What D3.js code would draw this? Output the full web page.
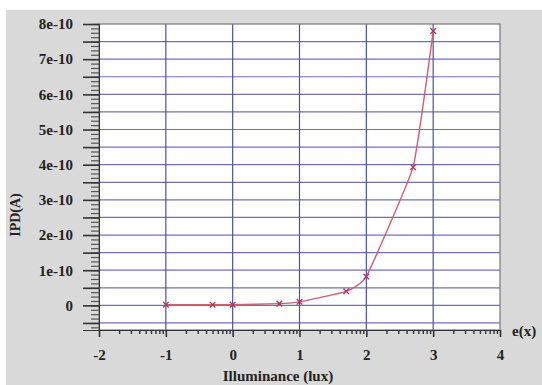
<!DOCTYPE html>
<html>
<head>
<meta charset="utf-8">
<script src="https://cdn.jsdelivr.net/npm/d3@7"></script>
<style>
  html, body { margin: 0; padding: 0; background: #ffffff; }
  svg { display: block; }
  text { font-family: "Liberation Serif", "Times New Roman", serif; font-weight: bold; fill: #222; }
</style>
</head>
<body>
<svg id="chart" width="542" height="385"></svg>
<script>
// Illuminance levels (lux) and measured photodiode current IPD (A)
const illuminance = [0.1, 0.5, 1, 5, 10, 50, 100, 500, 1000];
const ipd = [0.02e-10, 0.02e-10, 0.02e-10, 0.05e-10, 0.1e-10, 0.4e-10, 0.82e-10, 3.93e-10, 7.8e-10];

// Axis ticks
const xTickExponents = [-2, -1, 0, 1, 2, 3, 4];
const yTickValues = [0, 1e-10, 2e-10, 3e-10, 4e-10, 5e-10, 6e-10, 7e-10, 8e-10];
const yTickLabels = ["0", "1e-10", "2e-10", "3e-10", "4e-10", "5e-10", "6e-10", "7e-10", "8e-10"];

const svg = d3.select("#chart");
const plot = { left: 99, top: 24, right: 500, bottom: 330 };

// Gray panel behind the chart
svg.append("rect")
  .attr("x", 6).attr("y", 10)
  .attr("width", 536).attr("height", 375)
  .attr("fill", "#d9d9d9");

const x = d3.scaleLog()
  .domain([1e-2, 1e4])
  .range([plot.left, plot.right]);

const y = d3.scaleLinear()
  .domain([-0.7e-10, 8e-10])
  .range([plot.bottom, plot.top]);

// Plot area
svg.append("rect")
  .attr("x", plot.left).attr("y", plot.top)
  .attr("width", plot.right - plot.left).attr("height", plot.bottom - plot.top)
  .attr("fill", "#ffffff");

// Horizontal grid every 0.5e-10
const hGrid = d3.range(-1, 16).map(i => i * 0.5e-10);
svg.append("g").selectAll("line")
  .data(hGrid)
  .join("line")
  .attr("x1", plot.left).attr("x2", plot.right)
  .attr("y1", d => y(d)).attr("y2", d => y(d))
  .attr("stroke", "#7070b8").attr("stroke-width", 1.2);

// Vertical grid at each decade
const vGrid = [-1, 0, 1, 2, 3].map(e => Math.pow(10, e));
svg.append("g").selectAll("line")
  .data(vGrid)
  .join("line")
  .attr("x1", d => x(d)).attr("x2", d => x(d))
  .attr("y1", plot.top).attr("y2", plot.bottom)
  .attr("stroke", "#5050a0").attr("stroke-width", 1.2);

// Plot border
svg.append("rect")
  .attr("x", plot.left).attr("y", plot.top)
  .attr("width", plot.right - plot.left).attr("height", plot.bottom - plot.top)
  .attr("fill", "none").attr("stroke", "#777").attr("stroke-width", 1.2);

// Y axis: major ticks every 0.5e-10, minor every 0.125e-10
const yMinor = d3.range(-5, 65).map(i => i * 0.125e-10);
const yAxisMinor = d3.axisLeft(y).tickValues(yMinor).tickSize(8).tickFormat("");
const yAxisMajor = d3.axisLeft(y).tickValues(hGrid.concat([8e-10])).tickSize(16).tickFormat("");
const yAxisLabels = d3.axisLeft(y).tickValues(yTickValues).tickSize(0).tickPadding(26)
  .tickFormat((d, i) => yTickLabels[i]);

const gym = svg.append("g").attr("transform", `translate(${plot.left},0)`).call(yAxisMinor);
gym.select(".domain").attr("stroke", "#333");
gym.selectAll(".tick line").attr("stroke", "#555").attr("stroke-width", 1.2);
const gyM = svg.append("g").attr("transform", `translate(${plot.left},0)`).call(yAxisMajor);
gyM.select(".domain").attr("stroke", "#333");
gyM.selectAll(".tick line").attr("stroke", "#333").attr("stroke-width", 1.6);

const yl = svg.append("g").attr("transform", `translate(${plot.left},0)`).call(yAxisLabels);
yl.select(".domain").remove();
yl.selectAll("text").attr("font-size", 15);

// X axis: decade ticks with log minor ticks
const xMajor = xTickExponents.map(e => Math.pow(10, e));
const xMinor = [];
for (let e = -2; e < 4; e++) {
  for (let k = 2; k <= 9; k++) xMinor.push(k * Math.pow(10, e));
}
const xAxisMinor = d3.axisBottom(x).tickValues(xMinor).tickSize(4).tickFormat("");
const xAxisMajor = d3.axisBottom(x).tickValues(xMajor).tickSize(7)
  .tickPadding(12)
  .tickFormat(d => String(Math.round(Math.log10(d))));

const gxm = svg.append("g").attr("transform", `translate(0,${plot.bottom})`).call(xAxisMinor);
gxm.select(".domain").attr("stroke", "#333");
gxm.selectAll(".tick line").attr("stroke", "#333").attr("stroke-width", 1.4);
const gx = svg.append("g").attr("transform", `translate(0,${plot.bottom})`).call(xAxisMajor);
gx.select(".domain").attr("stroke", "#333");
gx.selectAll(".tick line").attr("stroke", "#333").attr("stroke-width", 1.6);
gx.selectAll("text").attr("font-size", 15);

// Axis titles
svg.append("text")
  .attr("x", 278).attr("y", 381)
  .attr("text-anchor", "middle")
  .attr("font-size", 15)
  .text("Illuminance (lux)");

svg.append("text")
  .attr("x", 512).attr("y", 336)
  .attr("font-size", 15)
  .text("e(x)");

svg.append("text")
  .attr("transform", "translate(20,215) rotate(-90)")
  .attr("text-anchor", "middle")
  .attr("font-size", 14)
  .text("IPD(A)");

// Data curve
const line = d3.line()
  .x((d, i) => x(illuminance[i]))
  .y(d => y(d))
  .curve(d3.curveCardinal.tension(0.65));

svg.append("path")
  .datum(ipd)
  .attr("d", line)
  .attr("fill", "none")
  .attr("stroke", "#cc6070")
  .attr("stroke-width", 1.4);

// Cross markers
const s = 2.8;
svg.append("g").selectAll("path")
  .data(ipd)
  .join("path")
  .attr("transform", (d, i) => `translate(${x(illuminance[i])},${y(d)})`)
  .attr("d", `M${-s},${-s}L${s},${s}M${-s},${s}L${s},${-s}`)
  .attr("stroke", "#b03060")
  .attr("stroke-width", 1.3);
</script>
</body>
</html>
